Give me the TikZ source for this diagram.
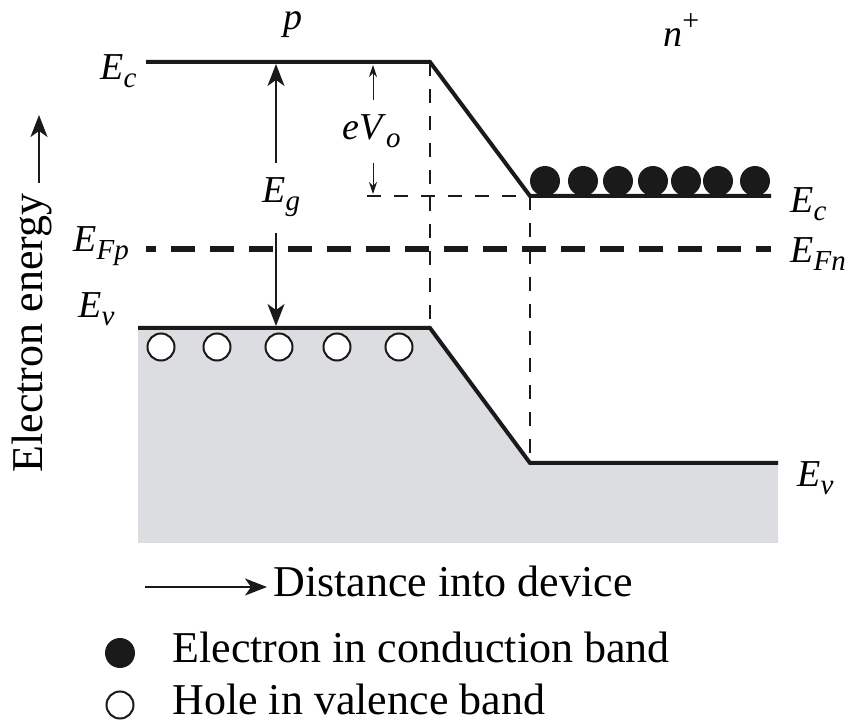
\documentclass[tikz,border=0pt]{standalone}
\usepackage{fontspec}
\setmainfont{Liberation Serif}
\usepackage{tikz}
\usetikzlibrary{arrows.meta}
\definecolor{BandGray}{RGB}{220,221,224}
\definecolor{LineBlack}{RGB}{26,26,26}
\newcommand{\lvl}[2]{\textit{#1}\raisebox{-4pt}{\fontsize{14.5}{15}\selectfont\itshape #2}}

\begin{document}
\begin{tikzpicture}[x=0.5pt, y=-0.5pt,
          band/.style={line width=2pt, LineBlack, line join=miter},
          fermi/.style={line width=3pt, LineBlack, dash pattern=on 12pt off 7.5pt, dash phase=7pt},
          guide/.style={line width=0.9pt, LineBlack, dash pattern=on 7pt off 6.5pt},
          arr/.style={-{Stealth[length=11pt, width=8.5pt, inset=3pt]}, line width=0.8pt, LineBlack},
          tick/.style={-{Stealth[length=6pt, width=4pt, inset=2pt]}, line width=0.5pt, LineBlack},
          lab/.style={inner sep=0pt, anchor=base west, font=\fontsize{19}{22}\selectfont},
          txt/.style={inner sep=0pt, anchor=base west, font=\fontsize{22}{26}\selectfont},
          elec/.style={circle, fill=LineBlack, inner sep=0pt, minimum size=15pt},
          hole/.style={circle, draw=LineBlack, line width=1pt, fill=white, inner sep=0pt, minimum size=13.5pt}
        ]
        \useasboundingbox (0,0) rectangle (859,722);

        % Band corners
        \coordinate (cL) at (146,62);
        \coordinate (cK) at (430,62);
        \coordinate (cN) at (530,196);
        \coordinate (cR) at (771,196);
        \coordinate (vL) at (138,328);
        \coordinate (vK) at (430,328);
        \coordinate (vN) at (530,463);
        \coordinate (vR) at (778,463);
        \coordinate (bL) at (138,543);
        \coordinate (bR) at (778,543);
        \coordinate (fL) at (146,249);
        \coordinate (fR) at (771,249);
        \coordinate (gL) at (367,196);

        % Valence band fill
        \fill[BandGray] (vL) -- (vK) -- (vN) -- (vR) -- (bR) -- (bL) -- cycle;

        % Guide lines
        \draw[guide] (cK) -- (vK);
        \draw[guide] (cN) -- (vN);
        \draw[guide] (gL) -- (cN);

        % Bands
        \draw[band] (cL) -- (cK) -- (cN) -- (cR);
        \draw[band] (vL) -- (vK) -- (vN) -- (vR);
        \draw[fermi] (fL) -- (fR);

        % Carriers
        \foreach \x [count=\i] in {545,583,618,653,686,718,755}
          \node[elec] (e\i) at (\x,181) {};
        \foreach \x [count=\i] in {161,217,279,337,399}
          \node[hole] (h\i) at (\x,347) {};

        % Level labels
        \node[lab] (EcL) at (100,80) {\lvl{E}{c}};
        \node[lab] (EFp) at (73,252) {\lvl{E}{Fp}};
        \node[lab] (EvL) at (78,318) {\lvl{E}{v}};
        \node[lab] (EcR) at (790,213) {\lvl{E}{c}};
        \node[lab] (EFn) at (790,263) {\lvl{E}{Fn}};
        \node[lab] (EvR) at (797,487) {\lvl{E}{v}};
        \node[lab, anchor=base] (pside) at (293,30) {\textit{p}};
        \node[lab] (nside) at (663,47) {\textit{n}\raisebox{8pt}{\fontsize{15}{15}\selectfont +}};

        % Gap and barrier
        \node[lab] (Eg) at (262,203) {\lvl{E}{g}};
        \coordinate (gU) at (276,163);
        \coordinate (gT) at (276,64);
        \coordinate (gD) at (276,233);
        \coordinate (gB) at (276,326);
        \draw[arr] (gU) -- (gT);
        \draw[arr] (gD) -- (gB);

        \node[lab] (eVo) at (342,140) {\lvl{eV}{o}};
        \coordinate (bU) at (373,100);
        \coordinate (bT) at (373,65);
        \coordinate (bD) at (373,163);
        \coordinate (bB) at (373,194);
        \draw[tick] (bU) -- (bT);
        \draw[tick] (bD) -- (bB);

        % Axes
        \node[txt, rotate=90] (yaxis) at (42,473) {Electron energy};
        \coordinate (yA) at (39,183);
        \coordinate (yB) at (39,115);
        \draw[arr] (yA) -- (yB);

        \node[txt] (xaxis) at (273,597) {Distance into device};
        \coordinate (xA) at (145,587);
        \coordinate (xB) at (267,587);
        \draw[arr] (xA) -- (xB);

        % Key
        \node[elec] (keyE) at (120,653) {};
        \node[txt] (keyEtxt) at (172,663) {Electron in conduction band};
        \node[hole] (keyH) at (120,705) {};
        \node[txt] (keyHtxt) at (172,715) {Hole in valence band};
      \end{tikzpicture}
\end{document}
